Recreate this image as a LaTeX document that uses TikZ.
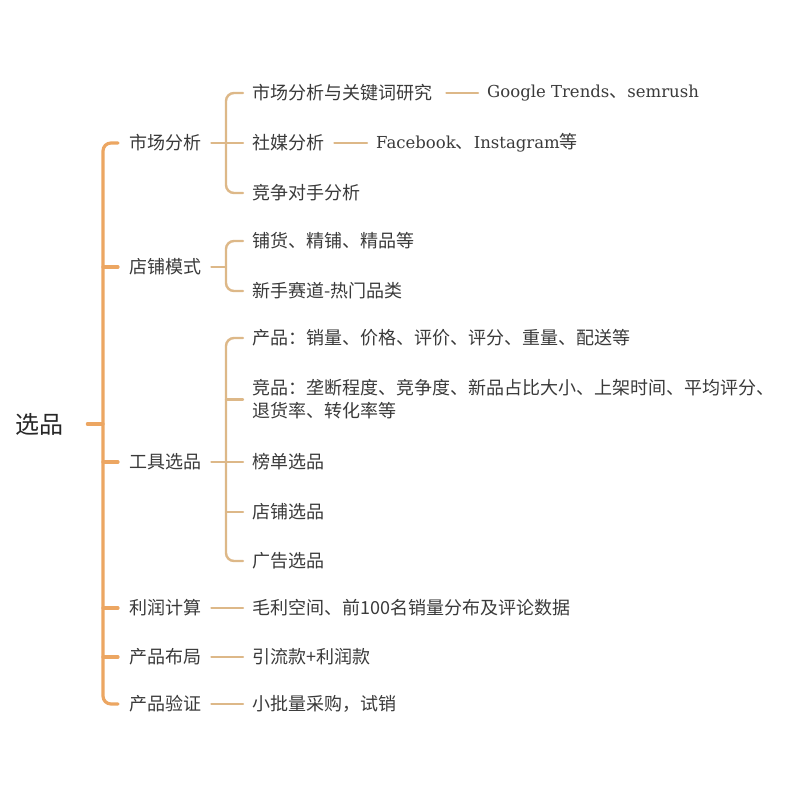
\documentclass[tikz,border=0pt]{standalone}
\usepackage{fontspec}
\newfontfamily\cjk{Noto Sans CJK SC}
\newfontfamily\lat{DejaVu Serif}
\definecolor{mainc}{HTML}{ECA662}
\definecolor{subc}{HTML}{DDB888}
\definecolor{txt}{HTML}{3A3A3A}
\tikzset{
  lbl/.style={anchor=west, inner sep=0pt, text=txt, font=\cjk\fontsize{18}{23}\selectfont, align=left},
  rootlbl/.style={anchor=west, inner sep=0pt, text=black!85, font=\cjk\fontsize{24}{28}\selectfont},
  mainline/.style={draw=mainc, line width=3.2pt, line cap=round},
  subline/.style={draw=subc, line width=2.4pt, line cap=round},
}
\newcommand{\lt}[1]{{\lat\fontsize{16.5}{20}\selectfont #1}}
\begin{document}
\begin{tikzpicture}[x=1pt,y=-1pt]
\useasboundingbox (0,0) rectangle (800,804);
\fill[white] (0,0) rectangle (800,804);
% root
\node[rootlbl] (root) at (15,424) {选品};
% level 1
\node[lbl] (ma) at (129,143) {市场分析};
\node[lbl] (dp) at (129,267) {店铺模式};
\node[lbl] (gj) at (129,462) {工具选品};
\node[lbl] (lr) at (129,608) {利润计算};
\node[lbl] (cb) at (129,657) {产品布局};
\node[lbl] (pv) at (129,704) {产品验证};
% level 2
\node[lbl] (m1) at (252,93) {市场分析与关键词研究};
\node[lbl] (m2) at (252,143) {社媒分析};
\node[lbl] (m3) at (252,193) {竞争对手分析};
\node[lbl] (s1) at (252,241) {铺货、精铺、精品等};
\node[lbl] (s2) at (252,291) {新手赛道-热门品类};
\node[lbl] (t1) at (252,338) {产品：销量、价格、评价、评分、重量、配送等};
\node[lbl] (t2) at (252,399.5) {竞品：垄断程度、竞争度、新品占比大小、上架时间、平均评分、\\退货率、转化率等};
\node[lbl] (t3) at (252,462) {榜单选品};
\node[lbl] (t4) at (252,512) {店铺选品};
\node[lbl] (t5) at (252,561) {广告选品};
\node[lbl] (p1) at (252,608) {毛利空间、前100名销量分布及评论数据};
\node[lbl] (q1) at (252,657) {引流款+利润款};
\node[lbl] (v1) at (252,704) {小批量采购，试销};
% level 3
\node[lbl] (g) at (487,93) {\lt{Google Trends}、\lt{semrush}};
\node[lbl] (f) at (376,143) {\lt{Facebook}、\lt{Instagram}等};
% bracket x positions
\coordinate (bx) at (103,424);
\coordinate (sx) at (226,424);
% root connector
\draw[mainline] ([xshift=24pt]root.east) -- (bx);
\draw[mainline, rounded corners=8pt] ([xshift=-11pt]ma.west) -- (ma.west -| bx) -- (pv.west -| bx) -- ([xshift=-11pt]pv.west);
\foreach \n in {dp,gj,lr,cb}{\draw[mainline] (\n.west -| bx) -- ([xshift=-11pt]\n.west);}
% market analysis group
\draw[subline, rounded corners=8pt] ([xshift=-9pt]m1.west) -- (m1.west -| sx) -- (m3.west -| sx) -- ([xshift=-9pt]m3.west);
\draw[subline] ([xshift=10pt]ma.east) -- ([xshift=-9pt]m2.west);
% shop mode group
\draw[subline, rounded corners=8pt] ([xshift=-9pt]s1.west) -- (s1.west -| sx) -- (s2.west -| sx) -- ([xshift=-9pt]s2.west);
\draw[subline] ([xshift=10pt]dp.east) -- (dp.east -| sx);
% tool group
\draw[subline, rounded corners=8pt] ([xshift=-9pt]t1.west) -- (t1.west -| sx) -- (t5.west -| sx) -- ([xshift=-9pt]t5.west);
\draw[subline] ([xshift=10pt]gj.east) -- ([xshift=-9pt]t3.west);
\foreach \n in {t2,t4}{\draw[subline] (\n.west -| sx) -- ([xshift=-9pt]\n.west);}
% single connectors
\draw[subline] ([xshift=10pt]lr.east) -- ([xshift=-9pt]p1.west);
\draw[subline] ([xshift=10pt]cb.east) -- ([xshift=-9pt]q1.west);
\draw[subline] ([xshift=10pt]pv.east) -- ([xshift=-9pt]v1.west);
% level 3 connectors
\draw[subline] ([xshift=14pt]m1.east) -- ([xshift=-9pt]g.west);
\draw[subline] ([xshift=10pt]m2.east) -- ([xshift=-9pt]f.west);
\end{tikzpicture}
\end{document}
